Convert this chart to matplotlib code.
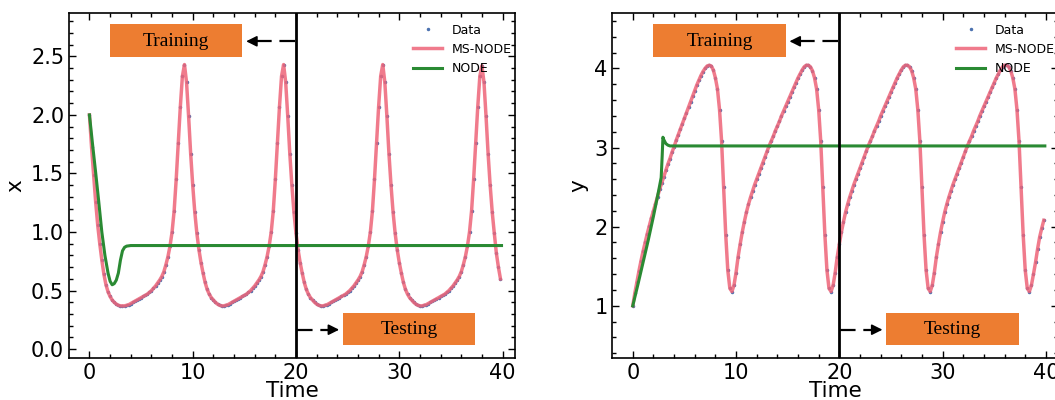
import numpy as np
import matplotlib
matplotlib.use("Agg")
import matplotlib.pyplot as plt
from matplotlib.ticker import MultipleLocator

# time grid of the data points (dt = 0.2)
t_data = np.round(np.arange(200) * 0.2, 1)

x_data = [2.00, 1.73, 1.49, 1.26, 1.06, 0.90, 0.76, 0.64, 0.55, 0.49,
          0.45, 0.42, 0.40, 0.385, 0.375, 0.37, 0.37, 0.37, 0.375, 0.38,
          0.39, 0.40, 0.41, 0.42, 0.43, 0.44, 0.45, 0.46, 0.47, 0.485,
          0.50, 0.52, 0.54, 0.565, 0.59, 0.62, 0.66, 0.72, 0.79, 0.88,
          1.00, 1.18, 1.45, 1.76, 2.07, 2.33, 2.43, 2.28, 1.99, 1.67,
          1.40, 1.17, 0.99, 0.85, 0.74, 0.65, 0.57, 0.51, 0.47, 0.44,
          0.42, 0.40, 0.385, 0.375, 0.37, 0.37, 0.375, 0.38, 0.39, 0.40,
          0.41, 0.42, 0.43, 0.44, 0.45, 0.46, 0.47, 0.485, 0.50, 0.52,
          0.54, 0.565, 0.59, 0.62, 0.66, 0.72, 0.79, 0.88, 1.00, 1.18,
          1.45, 1.76, 2.07, 2.33, 2.43, 2.28, 1.99, 1.67, 1.40, 1.17,
          0.99, 0.85, 0.74, 0.65, 0.57, 0.51, 0.47, 0.44, 0.42, 0.40,
          0.385, 0.375, 0.37, 0.37, 0.375, 0.38, 0.39, 0.40, 0.41, 0.42,
          0.43, 0.44, 0.45, 0.46, 0.47, 0.485, 0.50, 0.52, 0.54, 0.565,
          0.59, 0.62, 0.66, 0.72, 0.79, 0.88, 1.00, 1.18, 1.45, 1.76,
          2.07, 2.33, 2.43, 2.28, 1.99, 1.67, 1.40, 1.17, 0.99, 0.85,
          0.74, 0.65, 0.57, 0.51, 0.47, 0.44, 0.42, 0.40, 0.385, 0.375,
          0.37, 0.37, 0.375, 0.38, 0.39, 0.40, 0.41, 0.42, 0.43, 0.44,
          0.45, 0.46, 0.47, 0.485, 0.50, 0.52, 0.54, 0.565, 0.59, 0.62,
          0.66, 0.72, 0.79, 0.88, 1.00, 1.18, 1.45, 1.76, 2.07, 2.33,
          2.42, 2.28, 1.99, 1.67, 1.40, 1.17, 0.99, 0.82, 0.70, 0.60]

y_data = [1.00, 1.16, 1.30, 1.44, 1.57, 1.69, 1.80, 1.91, 2.01, 2.11,
          2.20, 2.29, 2.38, 2.47, 2.55, 2.63, 2.71, 2.79, 2.86, 2.94,
          3.01, 3.09, 3.16, 3.23, 3.30, 3.37, 3.44, 3.51, 3.58, 3.65,
          3.72, 3.79, 3.85, 3.91, 3.96, 4.00, 4.03, 4.04, 4.03, 3.98,
          3.88, 3.74, 3.48, 3.08, 2.50, 1.90, 1.45, 1.22, 1.18, 1.26,
          1.42, 1.62, 1.78, 1.93, 2.06, 2.18, 2.28, 2.37, 2.45, 2.53,
          2.60, 2.67, 2.74, 2.81, 2.88, 2.95, 3.02, 3.08, 3.14, 3.21,
          3.27, 3.33, 3.40, 3.46, 3.52, 3.58, 3.64, 3.70, 3.76, 3.82,
          3.88, 3.93, 3.98, 4.02, 4.04, 4.04, 4.02, 3.97, 3.88, 3.74,
          3.48, 3.08, 2.50, 1.90, 1.45, 1.22, 1.18, 1.26, 1.42, 1.62,
          1.78, 1.93, 2.06, 2.18, 2.28, 2.37, 2.45, 2.53, 2.60, 2.67,
          2.74, 2.81, 2.88, 2.95, 3.02, 3.08, 3.14, 3.21, 3.27, 3.33,
          3.40, 3.46, 3.52, 3.58, 3.64, 3.70, 3.76, 3.82, 3.88, 3.93,
          3.98, 4.02, 4.04, 4.04, 4.02, 3.97, 3.88, 3.74, 3.48, 3.08,
          2.50, 1.90, 1.45, 1.22, 1.18, 1.26, 1.42, 1.62, 1.78, 1.93,
          2.06, 2.18, 2.28, 2.37, 2.45, 2.53, 2.60, 2.67, 2.74, 2.81,
          2.88, 2.95, 3.02, 3.08, 3.14, 3.21, 3.27, 3.33, 3.40, 3.46,
          3.52, 3.58, 3.64, 3.70, 3.76, 3.82, 3.88, 3.93, 3.98, 4.02,
          4.04, 4.04, 4.02, 3.97, 3.88, 3.74, 3.48, 3.08, 2.50, 1.90,
          1.45, 1.22, 1.18, 1.26, 1.40, 1.55, 1.72, 1.87, 1.98, 2.08]

# NODE predictions
t_node_x = [0, 0.3, 0.6, 0.9, 1.2, 1.5, 1.8, 2.0, 2.2, 2.4, 2.6, 2.8, 3.0,
            3.2, 3.4, 3.6, 4.0, 39.9]
x_node = [2.00, 1.75, 1.51, 1.26, 1.00, 0.80, 0.65, 0.58, 0.55, 0.56, 0.59,
          0.65, 0.76, 0.84, 0.87, 0.88, 0.885, 0.885]

t_node_y = [0, 0.5, 1.0, 1.5, 2.0, 2.5, 2.75, 2.85, 2.92, 3.0, 3.2, 3.4,
            3.6, 39.9]
y_node = [1.00, 1.27, 1.55, 1.83, 2.13, 2.45, 2.62, 2.90, 3.13, 3.10, 3.05,
          3.03, 3.02, 3.02]

blue = "#4C72B0"
red = "#EE6478"
green = "#2A8A33"
orange = "#ED7D31"

fig = plt.figure(figsize=(10.55, 4.0), dpi=100)
ax1 = fig.add_axes([0.0654, 0.105, 0.4227, 0.8625])
ax2 = fig.add_axes([0.5804, 0.105, 0.4227, 0.8625])


def panel(ax, data, node_t, node, ylab, ylim, major, minor):
    ax.plot(t_data, data, ".", color=blue, ms=3, label="Data")
    ax.plot(t_data, data, "-", color=red, lw=2.5, alpha=0.85, label="MS-NODE")
    ax.plot(node_t, node, "-", color=green, lw=2.2, label="NODE")
    ax.axvline(20, color="k", lw=2)
    ax.set_xlim(-1.98, 41.2)
    ax.set_ylim(*ylim)
    ax.xaxis.set_major_locator(MultipleLocator(10))
    ax.xaxis.set_minor_locator(MultipleLocator(2))
    ax.yaxis.set_major_locator(MultipleLocator(major))
    ax.yaxis.set_minor_locator(MultipleLocator(minor))
    ax.tick_params(which="both", direction="in", top=True, right=True,
                   labelsize=15, width=1)
    ax.tick_params(which="major", length=5)
    ax.tick_params(which="minor", length=3)
    for s in ax.spines.values():
        s.set_linewidth(1.2)
    ax.set_xlabel("Time", fontsize=15.5, labelpad=-1)
    ax.set_ylabel(ylab, fontsize=15.5)
    ax.legend(loc="upper right", frameon=False, fontsize=9,
              handlelength=2.3, borderaxespad=0.2, bbox_to_anchor=(1.01, 0.991))

    tr = ax.transAxes
    # Training box and arrow
    ax.add_patch(plt.Rectangle((0.092, 0.873), 0.297, 0.094, transform=tr,
                               facecolor=orange, edgecolor="none", zorder=5))
    ax.text(0.2405, 0.918, "Training", transform=tr, ha="center", va="center",
            fontsize=14, family="Liberation Serif", zorder=6)
    ax.plot([0.507, 0.41], [0.918, 0.918], transform=tr, color="k", lw=1.6,
            dashes=(7, 3.5), zorder=6)
    ax.annotate("", xy=(0.391, 0.918), xytext=(0.42, 0.918),
                xycoords="axes fraction",
                arrowprops=dict(arrowstyle="-|>", color="k", lw=1.2,
                                mutation_scale=16), zorder=6)
    # Testing box and arrow
    ax.add_patch(plt.Rectangle((0.614, 0.038), 0.297, 0.092, transform=tr,
                               facecolor=orange, edgecolor="none", zorder=5))
    ax.text(0.7625, 0.082, "Testing", transform=tr, ha="center", va="center",
            fontsize=14, family="Liberation Serif", zorder=6)
    ax.plot([0.511, 0.59], [0.082, 0.082], transform=tr, color="k", lw=1.6,
            dashes=(7, 3.5), zorder=6)
    ax.annotate("", xy=(0.612, 0.082), xytext=(0.58, 0.082),
                xycoords="axes fraction",
                arrowprops=dict(arrowstyle="-|>", color="k", lw=1.2,
                                mutation_scale=16), zorder=6)


panel(ax1, x_data, t_node_x, x_node, "x", (-0.075, 2.87), 0.5, 0.1)
panel(ax2, y_data, t_node_y, y_node, "y", (0.34, 4.70), 1, 0.2)

fig.savefig("out.png", dpi=100)
